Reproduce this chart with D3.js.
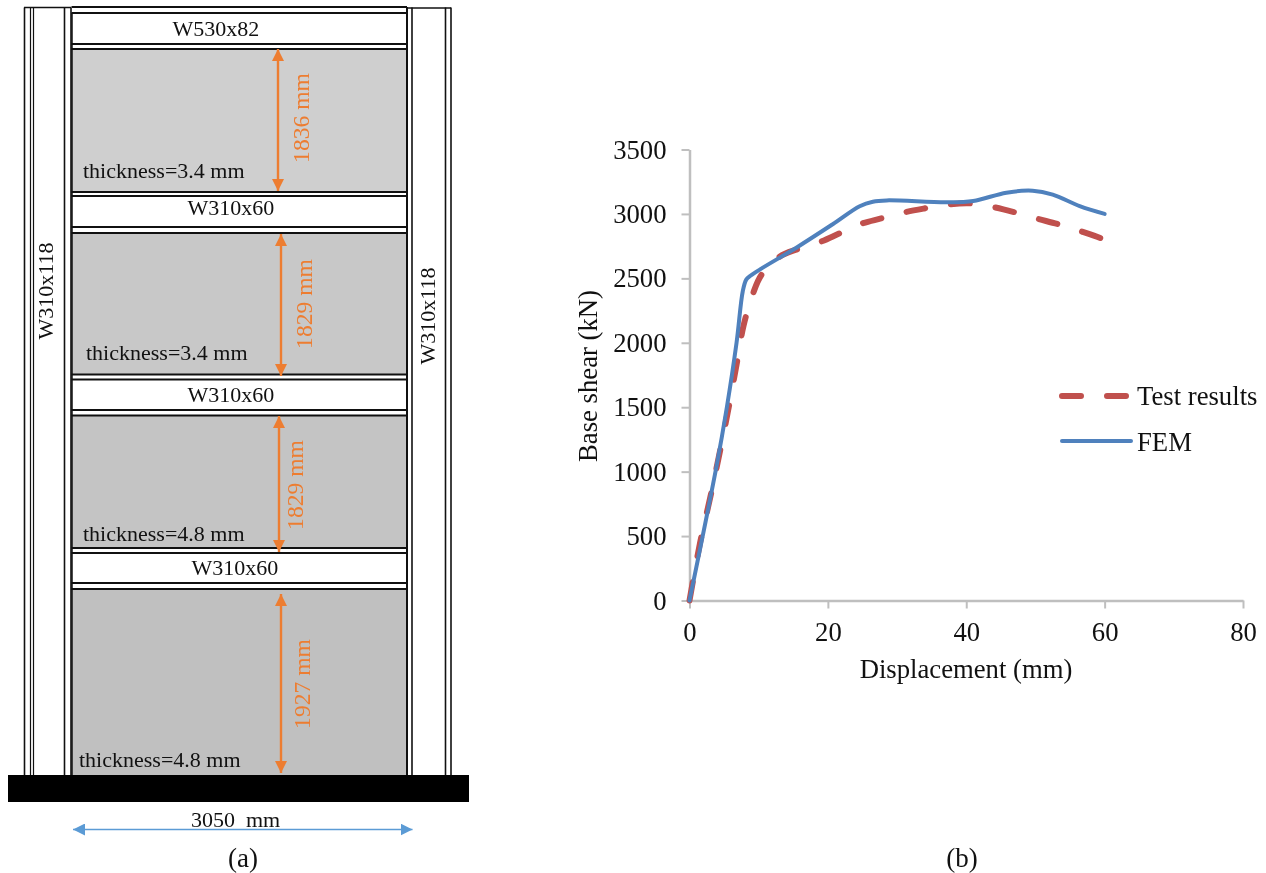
<!DOCTYPE html>
<html><head><meta charset="utf-8">
<script src="https://cdn.jsdelivr.net/npm/d3@7/dist/d3.min.js"></script>
<style>html,body{margin:0;padding:0;background:#fff}svg{display:block;filter:blur(0.35px)}text{font-family:"Liberation Serif",serif;fill:#111}</style>
</head><body><svg id="c" width="1266" height="873"></svg>
<script>
// ---- chart data (b)
const femX = [0,3.9,5.4,6.8,7.7,8.2,8.8,10.2,15.5,20.7,24.6,26.5,28.5,37.1,41,45.8,49.6,52.5,56.4,60];
const femY = [0,1040,1500,2000,2400,2490,2520,2570,2740,2920,3060,3095,3105,3090,3100,3165,3180,3150,3060,3000];
const testX = [0,1.5,3,4.2,5.6,6.8,7.8,9.2,10.4,13,15.7,19,21.7,24.9,27.7,31.1,34.2,37.6,40.7,43.8,47,50.1,53.3,56.4,59.5,60];
const testY = [0,440,800,1105,1480,1830,2130,2385,2527,2668,2728,2785,2850,2925,2965,3013,3045,3075,3082,3055,3013,2965,2920,2868,2810,2795];
const xTicks = [0,20,40,60,80];
const yTicks = [0,500,1000,1500,2000,2500,3000,3500];
const seriesNames = ["Test results","FEM"];
// ---- diagram labels (a)
const beamLabels = ["W530x82","W310x60","W310x60","W310x60"];
const thicknessLabels = ["thickness=3.4 mm","thickness=3.4 mm","thickness=4.8 mm","thickness=4.8 mm"];
const heightLabels = ["1836 mm","1829 mm","1829 mm","1927 mm"];
const panelShades = ["#cfcfcf","#c8c8c8","#c4c4c4","#c0c0c0"];

// ---- layout
const svg = d3.select("#c");
const AX = {l:689.5,r:1243,t:149.5,b:600.5};
const x = d3.scaleLinear().domain([0,80]).range([AX.l,AX.r]);
const y = d3.scaleLinear().domain([0,3500]).range([AX.b,AX.t]);
const axisColor = "#bfbfbf", orange = "#ed7d31", blueArrow = "#5b9bd5";

// defs
const defs = svg.append("defs");
[["arO",orange],["arB",blueArrow]].forEach(([id,c])=>{
  defs.append("marker").attr("id",id).attr("viewBox","0 0 12 12").attr("refX",12).attr("refY",6)
    .attr("markerWidth",12).attr("markerHeight",12).attr("markerUnits","userSpaceOnUse").attr("orient","auto-start-reverse")
    .append("path").attr("d","M0,0L12,6L0,12Z").attr("fill",c);
});

// ---- (a) frame
const g = svg.append("g");
const stroke = "#111";
const vline = (px,y0,y1,w=1.5)=>g.append("line").attr("x1",px).attr("x2",px).attr("y1",y0).attr("y2",y1).attr("stroke",stroke).attr("stroke-width",w);
const hline = (py,x0,x1,w=1.5)=>g.append("line").attr("y1",py).attr("y2",py).attr("x1",x0).attr("x2",x1).attr("stroke",stroke).attr("stroke-width",w);

const panels = [[49,192],[233,375],[416,548],[589,775]];
const beams = [[7,13,44,49],[192,196,227,233],[374.5,379.5,410,415.5],[548,553,583,589]];
panels.forEach((p,i)=>{
  g.append("rect").attr("x",72).attr("width",335).attr("y",p[0]).attr("height",p[1]-p[0]).attr("fill",panelShades[i]);
});
[24.5,30.5,33.5,64.5,71,407,412,445.5,451].forEach(px=>vline(px,7.5,775,[30.5,33.5].includes(px)?1.2:1.6));
hline(7.5,24,71,1.4); hline(8,407,451,1.4);
beams.forEach(b=>b.forEach(py=>hline(py,71.5,407,1.8)));
vline(72,13,775,1.5); vline(407,7,775,2);
g.append("rect").attr("x",8).attr("y",775).attr("width",461).attr("height",27).attr("fill","#000");

// beam labels
[[216,36],[231,215],[231,402],[235,575]].forEach((pos,i)=>{
  g.append("text").attr("x",pos[0]).attr("y",pos[1]).attr("text-anchor","middle").attr("font-size",22).text(beamLabels[i]);
});
[[83,177.5],[86,360],[83,540.5],[79,766.5]].forEach((pos,i)=>{
  g.append("text").attr("x",pos[0]).attr("y",pos[1]).attr("font-size",22).text(thicknessLabels[i]);
});
// column labels
[[53,291],[435,316]].forEach(pos=>{
  g.append("text").attr("transform",`translate(${pos[0]},${pos[1]}) rotate(-90)`).attr("text-anchor","middle").attr("font-size",22).text("W310x118");
});
// height arrows
[[278,49,191],[281,234,376],[279,416,552],[281,594,773]].forEach(a=>{
  g.append("line").attr("x1",a[0]).attr("x2",a[0]).attr("y1",a[1]).attr("y2",a[2]).attr("stroke",orange).attr("stroke-width",2.4)
   .attr("marker-start","url(#arO)").attr("marker-end","url(#arO)");
});
[[309,118],[312,304],[303,485],[310,684]].forEach((pos,i)=>{
  g.append("text").attr("transform",`translate(${pos[0]},${pos[1]}) rotate(-90)`).attr("text-anchor","middle")
   .attr("font-size",23.6).style("fill",orange).text(heightLabels[i]);
});
g.append("line").attr("x1",73).attr("x2",412.5).attr("y1",829.5).attr("y2",829.5).attr("stroke",blueArrow).attr("stroke-width",1.5)
 .attr("marker-start","url(#arB)").attr("marker-end","url(#arB)");
g.append("text").attr("x",235.5).attr("y",826.5).attr("text-anchor","middle").attr("font-size",22).style("white-space","pre").text("3050  mm");
g.append("text").attr("x",243).attr("y",867).attr("text-anchor","middle").attr("font-size",27).text("(a)");
g.append("text").attr("x",962).attr("y",867).attr("text-anchor","middle").attr("font-size",27).text("(b)");

// ---- (b) axes
const ax = svg.append("g");
const xa = ax.append("g").attr("transform",`translate(0,${AX.b})`).call(d3.axisBottom(x).tickValues(xTicks).tickSize(8).tickSizeOuter(0).tickPadding(14).tickFormat(d3.format("d")));
const ya = ax.append("g").attr("transform",`translate(${AX.l},0)`).call(d3.axisLeft(y).tickValues(yTicks).tickSize(8).tickSizeOuter(0).tickPadding(15).tickFormat(d3.format("d")));
[xa,ya].forEach(a=>{
  a.selectAll("path,line").attr("stroke",axisColor).attr("stroke-width",2);
  a.selectAll("path").attr("stroke-width",2.5);
  a.selectAll("text").attr("font-size",26.7).attr("font-family","Liberation Serif").style("fill","#111");
});
ax.append("text").attr("x",966).attr("y",678).attr("text-anchor","middle").attr("font-size",26.7).text("Displacement (mm)");
ax.append("text").attr("transform","translate(597,376) rotate(-90)").attr("text-anchor","middle").attr("font-size",26.7).text("Base shear (kN)");

// ---- (b) lines
const line = d3.line().x(d=>x(d[0])).y(d=>y(d[1])).curve(d3.curveCatmullRom.alpha(0.5));
const testColor="#c0504d", femColor="#4f81bd";
svg.append("path").datum(d3.zip(testX,testY)).attr("d",line).attr("fill","none").attr("stroke",testColor)
  .attr("stroke-width",6).attr("stroke-linecap","round").attr("stroke-dasharray","19 26");
svg.append("path").datum(d3.zip(femX,femY)).attr("d",line).attr("fill","none").attr("stroke",femColor)
  .attr("stroke-width",4).attr("stroke-linejoin","round").attr("stroke-linecap","round");

// ---- legend
const leg = svg.append("g");
leg.append("line").attr("x1",1062).attr("x2",1126).attr("y1",396).attr("y2",396).attr("stroke",testColor).attr("stroke-width",6).attr("stroke-linecap","round").attr("stroke-dasharray","19 26");
leg.append("line").attr("x1",1062).attr("x2",1131).attr("y1",441).attr("y2",441).attr("stroke",femColor).attr("stroke-width",4).attr("stroke-linecap","round");
seriesNames.forEach((n,i)=>leg.append("text").attr("x",1137).attr("y",[405,451][i]).attr("font-size",26.7).text(n));
</script></body></html>
